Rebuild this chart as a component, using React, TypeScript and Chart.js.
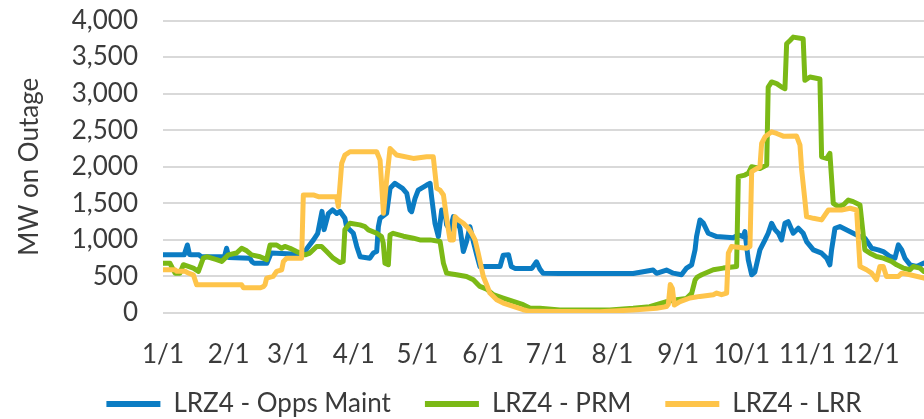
import React, { useEffect, useRef } from 'react';
import { Chart, registerables } from 'chart.js';

Chart.register(...registerables);

const monthTickDays = [0, 31, 59, 90, 120, 151, 181, 212, 243, 273, 304, 334];
const monthTickLabels = ['1/1', '2/1', '3/1', '4/1', '5/1', '6/1', '7/1', '8/1', '9/1', '10/1', '11/1', '12/1'];
const seriesNames = ['LRZ4 - Opps Maint', 'LRZ4 - PRM', 'LRZ4 - LRR'];
const seriesColors = ['#0B7CC3', '#7BB916', '#FEC44A'];

const oppsDays = [0, 10, 11.5, 12.5, 13.5, 17, 18, 29, 30, 31, 41, 42, 43, 49, 51, 66, 68, 71, 73, 75, 76, 78, 80, 82, 83.5, 85.8, 86.6, 89.8, 91.4, 93, 97.6, 99.2, 100.8, 101.6, 102.4, 105.5, 107.1, 109.4, 113, 115, 116.5, 117.3, 118.9, 120.4, 124.4, 126, 126.7, 128.3, 129.9, 131.5, 133, 133.8, 135.4, 137, 138.5, 140.1, 141.7, 143.2, 144.8, 146.4, 148, 149.5, 159, 160.5, 163, 164.3, 166, 174, 176.2, 177.8, 179.3, 187.2, 221.8, 231.2, 232.8, 237.5, 240.7, 244.6, 247, 249.4, 251, 251.7, 253.3, 254.9, 257.2, 261.2, 269, 271.4, 273.7, 274.5, 276.1, 277.7, 279.2, 281.6, 284, 285.5, 287.1, 288.7, 290.3, 291.8, 293.4, 294.9, 297.3, 299.7, 302, 303.6, 306.8, 310.7, 313.1, 314.6, 315.4, 317, 319.3, 325.6, 328.7, 331.1, 334.3, 337.4, 339.8, 342.9, 345.3, 346.9, 348.5, 350, 352.4, 355.5, 359];
const oppsMw = [795, 795, 930, 800, 795, 795, 770, 770, 885, 760, 750, 700, 680, 680, 820, 800, 885, 1000, 1090, 1390, 1140, 1360, 1410, 1360, 1390, 1295, 1180, 1090, 910, 770, 750, 820, 840, 1180, 1295, 1364, 1705, 1773, 1705, 1636, 1410, 1386, 1568, 1680, 1750, 1773, 1590, 1227, 1045, 1410, 1386, 1205, 1136, 1318, 1250, 1160, 840, 977, 1180, 977, 795, 636, 636, 790, 795, 636, 610, 610, 700, 600, 543, 540, 540, 588, 543, 588, 545, 523, 614, 659, 864, 1045, 1273, 1230, 1091, 1045, 1030, 1068, 1045, 1114, 727, 523, 560, 864, 1000, 1091, 1227, 1140, 1091, 1000, 1227, 1250, 1091, 1160, 1091, 977, 864, 818, 750, 659, 864, 1159, 1182, 1091, 1045, 1023, 886, 864, 840, 773, 750, 932, 864, 750, 659, 636, 682, 636];

const prmDays = [0, 3.3, 5.7, 8, 9.6, 14.3, 16.7, 19, 20.6, 25.3, 27.7, 30.8, 34.7, 37.1, 39.5, 41.8, 45.8, 48.9, 50.5, 53.6, 56, 57.5, 59.9, 63, 67, 69.3, 72.5, 74.8, 77.2, 80.3, 83.5, 85, 85.8, 88.2, 92.9, 95.3, 96.9, 100.8, 103.1, 103.9, 104.7, 106.3, 107.1, 108.6, 113.4, 118.1, 121.2, 126, 130.7, 132.3, 133.8, 138.5, 143.2, 146.4, 149.5, 152.7, 155.8, 160.5, 165.2, 169.9, 173, 177.8, 187.2, 210.8, 221.8, 229.6, 237.5, 242.2, 247, 249.4, 251, 252, 254.1, 259.6, 264.3, 270.6, 271.4, 274.5, 276.1, 277.7, 281.6, 284.8, 285.5, 287.1, 289.5, 291.8, 293.4, 294.2, 295.8, 297.3, 302, 302.8, 305.2, 309.9, 310.7, 313.1, 314.6, 316.2, 318.6, 320.9, 323.3, 325.6, 328.8, 331.1, 333.5, 336.6, 339.8, 343.7, 346.1, 349.2, 352.4, 353.9, 357.1, 359];
const prmMw = [680, 680, 545, 545, 660, 615, 570, 750, 770, 730, 705, 795, 820, 885, 850, 795, 770, 730, 930, 930, 885, 910, 885, 840, 795, 820, 910, 910, 840, 750, 690, 705, 1140, 1227, 1205, 1180, 1136, 1090, 1045, 955, 680, 660, 1068, 1090, 1050, 1023, 1000, 1000, 977, 680, 545, 523, 500, 455, 364, 327, 250, 205, 159, 114, 68, 64, 41, 41, 64, 87, 155, 180, 200, 269, 451, 490, 523, 591, 614, 636, 1864, 1886, 1910, 2000, 1977, 2023, 3090, 3159, 3136, 3090, 3068, 3682, 3727, 3773, 3750, 3182, 3227, 3200, 2136, 2114, 2182, 1500, 1455, 1477, 1545, 1523, 1477, 864, 818, 773, 750, 705, 659, 614, 591, 636, 614, 568];

const lrrDays = [0, 5.7, 6.5, 10.4, 12, 14.3, 15.9, 37.1, 38, 46, 47.3, 48.1, 48.9, 52, 53.6, 56, 56.8, 58.3, 65.4, 66.2, 70.9, 73.3, 81.9, 82.7, 84.3, 85.8, 88.2, 100.8, 102.4, 104, 105.5, 107.1, 110.2, 118.1, 124.4, 127.5, 129.1, 130.7, 132.3, 133.8, 135.4, 137, 137.8, 139.3, 141.7, 144, 145.6, 147.2, 148.7, 151.1, 152.7, 154.2, 157.4, 160.5, 165.2, 169.9, 173, 206, 221.8, 232.8, 237.5, 238.4, 239.3, 240.3, 241.2, 243.9, 248.6, 253.3, 259.6, 261.2, 263.5, 265.9, 266.7, 268.2, 275.3, 276.9, 277.7, 281.6, 282.4, 284, 287.1, 289.5, 292.6, 298.9, 300.5, 301.3, 302.8, 303.6, 306.8, 310.7, 312.3, 313.9, 320.1, 324.1, 327.2, 328.8, 331.9, 334.3, 336.6, 338.2, 339.8, 341.3, 346.9, 348.5, 352.4, 359];
const lrrMw = [590, 590, 570, 570, 545, 523, 385, 385, 345, 345, 360, 385, 477, 500, 570, 590, 705, 750, 750, 1614, 1614, 1590, 1590, 1455, 2045, 2160, 2205, 2205, 2090, 1364, 1818, 2250, 2160, 2114, 2136, 2136, 1705, 1680, 1614, 1295, 1000, 1000, 1318, 1273, 1227, 1160, 1090, 1000, 818, 500, 386, 273, 182, 136, 91, 45, 23, 18, 41, 64, 87, 120, 390, 337, 109, 155, 205, 227, 250, 273, 250, 273, 818, 909, 886, 909, 1932, 2000, 2318, 2409, 2477, 2455, 2418, 2420, 2295, 1955, 1545, 1318, 1295, 1273, 1341, 1409, 1409, 1432, 1409, 636, 591, 545, 455, 636, 636, 500, 500, 545, 523, 477];

const FONT = 'Lato, "Open Sans", sans-serif';
const TEXT = '#3b3b3b';

function toPoints(days: number[], mw: number[]) {
  return days.map((d, i) => ({ x: d, y: mw[i] }));
}

const legendShift = {
  id: 'legendShift',
  afterLayout(chart: any) {
    const lg = chart.legend;
    if (!lg) return;
    lg.left += 22;
    lg.right += 22;
    lg.top -= 12;
  },
};

export default function App() {
  const ref = useRef<HTMLCanvasElement | null>(null);
  useEffect(() => {
    if (!ref.current) return;
    const all = [
      toPoints(oppsDays, oppsMw),
      toPoints(prmDays, prmMw),
      toPoints(lrrDays, lrrMw),
    ];
    const chart = new Chart(ref.current, {
      type: 'line',
      data: {
        datasets: all.map((pts, i) => ({
          label: seriesNames[i],
          data: pts,
          borderColor: seriesColors[i],
          backgroundColor: seriesColors[i],
          borderWidth: 5,
          pointRadius: 0,
          tension: 0,
          borderJoinStyle: 'round' as const,
          borderCapStyle: 'round' as const,
          order: 3 - i,
        })),
      },
      plugins: [legendShift],
      options: {
        animation: false,
        responsive: true,
        maintainAspectRatio: false,
        layout: { padding: { top: 20.5, right: 0, bottom: 0, left: 0 } },
        plugins: {
          tooltip: { enabled: false },
          legend: {
            position: 'bottom',
            maxHeight: 50,
            labels: {
              font: { family: FONT, size: 26 },
              color: TEXT,
              boxWidth: 54,
              boxHeight: 6,
              padding: 34,
              useBorderRadius: true,
              borderRadius: 3,
              generateLabels: (c: any) =>
                c.data.datasets.map((ds: any, i: number) => ({
                  text: ds.label,
                  fillStyle: ds.borderColor,
                  strokeStyle: ds.borderColor,
                  lineWidth: 0,
                  hidden: false,
                  datasetIndex: i,
                  fontColor: TEXT,
                })),
              sort: (a: any, b: any) => a.datasetIndex - b.datasetIndex,
            },
          },
        },
        scales: {
          x: {
            type: 'linear',
            min: 0,
            max: 359,
            grid: { display: false },
            border: { display: false },
            afterBuildTicks: (scale: any) => {
              scale.ticks = monthTickDays.map((v) => ({ value: v }));
            },
            afterFit: (scale: any) => {
              scale.height = 56;
              scale.paddingLeft = 0;
              scale.paddingRight = 0;
            },
            ticks: {
              autoSkip: false,
              maxRotation: 0,
              padding: 18,
              font: { family: FONT, size: 26 },
              color: TEXT,
              callback: (v: any) => {
                const idx = monthTickDays.indexOf(Number(v));
                return idx >= 0 ? monthTickLabels[idx] : '';
              },
            },
          },
          y: {
            min: 0,
            max: 4000,
            grid: { color: '#d9d9d9', lineWidth: 2, drawTicks: false },
            border: { display: false },
            afterFit: (scale: any) => {
              scale.width = 163;
              scale.paddingTop = 0;
              scale.paddingBottom = 0;
            },
            ticks: {
              stepSize: 500,
              padding: 25,
              font: { family: FONT, size: 26 },
              color: TEXT,
              callback: (v: any) => Number(v).toLocaleString('en-US'),
            },
            title: {
              display: true,
              text: 'MW on Outage',
              font: { family: FONT, size: 26 },
              color: TEXT,
              padding: { top: 14, bottom: 0 },
            },
          },
        },
      },
    });
    return () => chart.destroy();
  }, []);
  return (
    <div style={{ position: 'fixed', left: 0, top: 0, width: 924, height: 419, background: '#fff' }}>
      <canvas ref={ref} />
    </div>
  );
}
